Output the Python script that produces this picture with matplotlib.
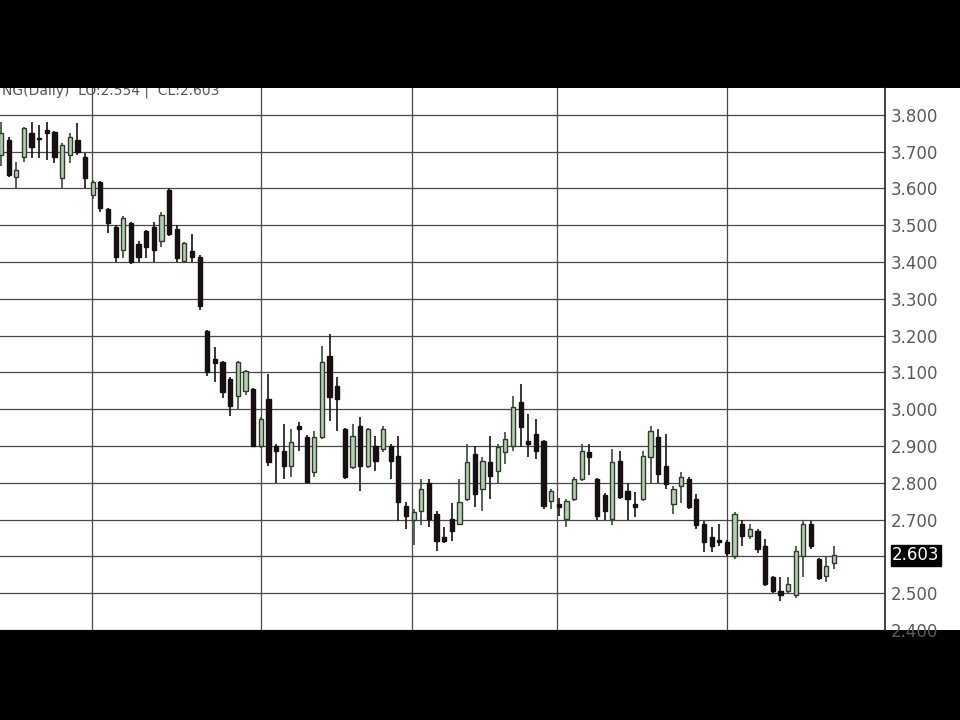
import matplotlib
matplotlib.use("Agg")
import matplotlib.pyplot as plt
import numpy as np

# daily candles (open, high, low, close)
opens = [3.69, 3.732, 3.632, 3.686, 3.751, 3.738, 3.759, 3.754, 3.629, 3.69,
         3.732, 3.686, 3.583, 3.618, 3.543, 3.494, 3.434, 3.507, 3.448, 3.483,
         3.494, 3.456, 3.597, 3.49, 3.402, 3.43, 3.415, 3.212, 3.137, 3.128,
         3.082, 3.036, 3.049, 3.055, 2.90, 3.028, 2.90, 2.887, 2.846, 2.954,
         2.925, 2.83, 2.925, 3.144, 3.063, 2.946, 2.843, 2.954, 2.846, 2.90,
         2.892, 2.90, 2.873, 2.738, 2.70, 2.724, 2.80, 2.716, 2.654, 2.703,
         2.689, 2.757, 2.878, 2.784, 2.857, 2.833, 2.884, 2.90, 3.019, 2.914,
         2.933, 2.914, 2.751, 2.743, 2.703, 2.757, 2.811, 2.884, 2.811, 2.768,
         2.703, 2.86, 2.778, 2.743, 2.757, 2.87, 2.925, 2.846, 2.743, 2.79,
         2.811, 2.757, 2.689, 2.654, 2.643, 2.640, 2.60, 2.689, 2.656, 2.67,
         2.627, 2.545, 2.507, 2.507, 2.494, 2.60, 2.689, 2.594, 2.548, 2.583]
highs = [3.78, 3.74, 3.673, 3.767, 3.781, 3.773, 3.781, 3.756, 3.724, 3.75,
         3.778, 3.697, 3.624, 3.62, 3.548, 3.50, 3.525, 3.51, 3.456, 3.488,
         3.51, 3.535, 3.60, 3.50, 3.455, 3.475, 3.418, 3.215, 3.168, 3.13,
         3.088, 3.13, 3.106, 3.058, 2.98, 3.096, 2.906, 2.96, 2.946, 2.965,
         2.93, 2.94, 3.171, 3.204, 3.087, 2.95, 2.96, 2.98, 2.95, 2.927,
         2.955, 2.905, 2.927, 2.749, 2.73, 2.81, 2.81, 2.724, 2.68, 2.744,
         2.81, 2.906, 2.90, 2.871, 2.927, 2.906, 2.938, 3.036, 3.068, 2.987,
         2.973, 2.917, 2.784, 2.76, 2.757, 2.816, 2.906, 2.906, 2.813, 2.772,
         2.892, 2.887, 2.80, 2.776, 2.887, 2.954, 2.946, 2.933, 2.792, 2.83,
         2.816, 2.77, 2.697, 2.681, 2.689, 2.645, 2.722, 2.70, 2.689, 2.675,
         2.648, 2.548, 2.545, 2.545, 2.627, 2.697, 2.697, 2.596, 2.60, 2.627]
lows = [3.66, 3.63, 3.602, 3.673, 3.683, 3.683, 3.678, 3.67, 3.602, 3.67,
        3.692, 3.602, 3.57, 3.537, 3.48, 3.40, 3.41, 3.395, 3.40, 3.412,
        3.40, 3.44, 3.47, 3.40, 3.40, 3.40, 3.27, 3.09, 3.074, 3.03,
        2.982, 3.0, 3.04, 2.898, 2.895, 2.846, 2.80, 2.811, 2.816, 2.887,
        2.80, 2.816, 2.92, 2.968, 2.94, 2.81, 2.838, 2.778, 2.84, 2.833,
        2.885, 2.81, 2.697, 2.675, 2.63, 2.684, 2.68, 2.616, 2.637, 2.643,
        2.684, 2.751, 2.735, 2.724, 2.757, 2.80, 2.851, 2.887, 2.898, 2.87,
        2.865, 2.73, 2.73, 2.71, 2.68, 2.75, 2.805, 2.82, 2.70, 2.70,
        2.684, 2.757, 2.70, 2.708, 2.751, 2.80, 2.80, 2.784, 2.716, 2.746,
        2.73, 2.675, 2.613, 2.613, 2.627, 2.60, 2.594, 2.629, 2.648, 2.608,
        2.52, 2.50, 2.48, 2.50, 2.486, 2.545, 2.62, 2.535, 2.53, 2.567]
closes = [3.75, 3.637, 3.651, 3.765, 3.713, 3.733, 3.751, 3.686, 3.719, 3.74,
          3.70, 3.629, 3.618, 3.548, 3.507, 3.415, 3.52, 3.40, 3.415, 3.44,
          3.434, 3.529, 3.475, 3.41, 3.453, 3.415, 3.28, 3.10, 3.125, 3.047,
          3.009, 3.128, 3.104, 2.90, 2.973, 2.857, 2.887, 2.846, 2.911, 2.946,
          2.803, 2.925, 3.128, 3.033, 3.028, 2.816, 2.927, 2.846, 2.946, 2.86,
          2.946, 2.86, 2.749, 2.711, 2.72, 2.784, 2.703, 2.643, 2.643, 2.67,
          2.749, 2.857, 2.77, 2.86, 2.819, 2.898, 2.919, 3.006, 2.952, 2.906,
          2.887, 2.738, 2.778, 2.735, 2.751, 2.811, 2.887, 2.87, 2.711, 2.724,
          2.857, 2.762, 2.757, 2.735, 2.873, 2.941, 2.824, 2.797, 2.784, 2.816,
          2.735, 2.684, 2.640, 2.627, 2.640, 2.608, 2.716, 2.656, 2.675, 2.621,
          2.526, 2.507, 2.494, 2.526, 2.616, 2.689, 2.629, 2.54, 2.575, 2.603]

price_ticks = [2.4, 2.5, 2.6, 2.7, 2.8, 2.9, 3.0, 3.1, 3.2, 3.3, 3.4, 3.5, 3.6, 3.7, 3.8]
month_breaks = [11.9, 34.0, 53.8, 72.8, 95.0]
last_price = 2.603
header = "NG(Daily)  LO:2.554 |  CL:2.603"

o = np.array(opens)
h = np.array(highs)
l = np.array(lows)
c = np.array(closes)
x = np.arange(len(o))
up = c >= o

fig = plt.figure(figsize=(9.6, 7.2), dpi=100, facecolor="black")
bg = fig.add_axes([0, 0.125, 1, 0.7528])
bg.set_facecolor("white")
bg.set_xticks([])
bg.set_yticks([])
for s in bg.spines.values():
    s.set_visible(False)

ax = fig.add_axes([0, 0.125, 0.922, 0.7528])
ax.set_facecolor("white")
ax.set_xlim(-0.13, 115.7)
ax.set_ylim(2.404, 3.873)

# grid
ax.set_yticks(price_ticks)
ax.set_yticklabels(["" if abs(p - 2.6) < 1e-9 else "%.3f" % p for p in price_ticks])
ax.set_xticks(month_breaks)
ax.set_xticklabels([])
ax.grid(True, color="#484848", linewidth=0.9)
ax.set_axisbelow(True)
ax.yaxis.tick_right()
ax.tick_params(axis="y", length=0, pad=4, labelsize=12, labelcolor="#5a5a5a")
ax.tick_params(axis="x", length=0)
for side in ["left", "top", "bottom"]:
    ax.spines[side].set_visible(False)
ax.spines["right"].set_color("#222222")
ax.spines["right"].set_linewidth(1.2)

# candles
wick_col = np.where(up, "#3a4a38", "#1a1212")
ax.vlines(x, l, h, colors=wick_col, linewidth=1.2, zorder=3)
body_lo = np.minimum(o, c)
body_h = np.maximum(np.abs(c - o), 0.004)
ax.bar(x[up], body_h[up], bottom=body_lo[up], width=0.55,
       color="#b4cfae", edgecolor="#2e3a2c", linewidth=1.0, zorder=4)
ax.bar(x[~up], body_h[~up], bottom=body_lo[~up], width=0.55,
       color="#1c0f10", edgecolor="#111111", linewidth=1.0, zorder=4)

# last price marker
ax.text(1.008, last_price, "%.3f" % last_price, transform=ax.get_yaxis_transform(),
        ha="left", va="center", fontsize=12, color="white",
        bbox=dict(boxstyle="square,pad=0.1", facecolor="black", edgecolor="black"))

# header line, upper half hidden under the top bar
ax.text(0.002, 0.995, header, transform=ax.transAxes, ha="left", va="center",
        fontsize=10, color="#555555", clip_on=True)

fig.savefig("out.png", dpi=100, facecolor="black")
